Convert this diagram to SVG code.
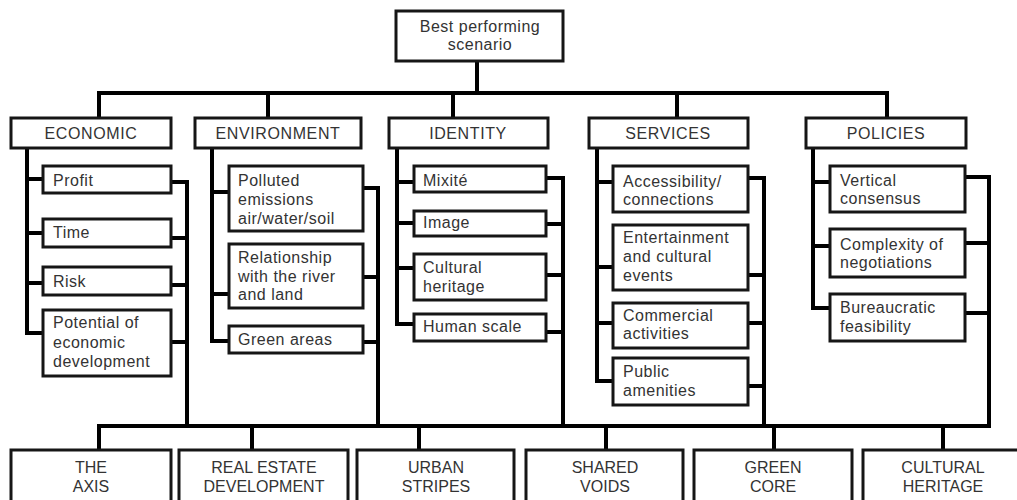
<svg xmlns="http://www.w3.org/2000/svg" width="1017" height="500" viewBox="0 0 1017 500">
<style>
.b{fill:#fff;stroke:#161616;stroke-width:3}
.c{fill:none;stroke:#000;stroke-width:4;stroke-linecap:square;stroke-linejoin:miter}
text{font-family:"Liberation Sans",Arial,sans-serif;fill:#333}
.s{font-size:16px;letter-spacing:0.5px}
.k{font-size:16px;letter-spacing:0.6px;text-anchor:middle}
.t{font-size:16px;letter-spacing:0.5px;text-anchor:middle}
.m{font-size:16px;text-anchor:middle}
</style>
<rect width="1017" height="500" fill="#fff"/>
<g id="connectors">
<path class="c" d="M477 61V93M99 93H887M99 93V118M268 93V118M453 93V118M677 93V118M887 93V118"/>
<path class="c" d="M27 149V333H42M27 179H42M27 233H42M27 283H42M171 182H187V426M171 238H187M171 285H187M171 342H187"/>
<path class="c" d="M212 149V341H228M212 192H228M212 294H228M363 188H378V426M363 277H378M363 342H378"/>
<path class="c" d="M397 149V324H413M397 182H413M397 223H413M397 268H413M546 178H563V426M546 224H563M546 275H563M546 332H563"/>
<path class="c" d="M597 149V381H612M597 182H612M597 267H612M597 323H612M748 178H764V426M748 275H764M748 323H764M748 386H764"/>
<path class="c" d="M813 149V308H829M813 182H829M813 246H829M965 177H989V426M965 243H989M965 313H989"/>
<path class="c" d="M99 426H989M99 426V450M252 426V450M419 426V450M606 426V450M774 426V450M943 426V450"/>
</g>
<g id="top"><rect class="b" x="396" y="11" width="167" height="50"/><text class="t" x="480" y="32">Best performing</text><text class="t" x="480" y="50">scenario</text></g>
<g id="economic"><rect class="b" x="11" y="118" width="160" height="30"/><text class="k" x="91" y="139">ECONOMIC</text></g>
<g id="environment"><rect class="b" x="195" y="118" width="166" height="30"/><text class="k" x="278" y="139">ENVIRONMENT</text></g>
<g id="identity"><rect class="b" x="389" y="118" width="159" height="30"/><text class="k" x="468" y="139">IDENTITY</text></g>
<g id="services"><rect class="b" x="589" y="118" width="159" height="30"/><text class="k" x="668" y="139">SERVICES</text></g>
<g id="policies"><rect class="b" x="806" y="118" width="160" height="30"/><text class="k" x="886" y="139">POLICIES</text></g>
<g id="profit"><rect class="b" x="43" y="166" width="128" height="27"/><text class="s" x="53" y="186">Profit</text></g>
<g id="time"><rect class="b" x="43" y="219" width="128" height="28"/><text class="s" x="53" y="238">Time</text></g>
<g id="risk"><rect class="b" x="43" y="267" width="128" height="28"/><text class="s" x="53" y="287">Risk</text></g>
<g id="potential"><rect class="b" x="43" y="310" width="128" height="66"/><text class="s" x="53" y="328">Potential of</text><text class="s" x="53" y="348">economic</text><text class="s" x="53" y="367">development</text></g>
<g id="polluted"><rect class="b" x="229" y="166" width="134" height="65"/><text class="s" x="238" y="186">Polluted</text><text class="s" x="238" y="205">emissions</text><text class="s" x="238" y="224">air/water/soil</text></g>
<g id="relationship"><rect class="b" x="229" y="244" width="134" height="64"/><text class="s" x="238" y="263">Relationship</text><text class="s" x="238" y="282">with the river</text><text class="s" x="238" y="300">and land</text></g>
<g id="green-areas"><rect class="b" x="229" y="326" width="134" height="27"/><text class="s" x="238" y="345">Green areas</text></g>
<g id="mixite"><rect class="b" x="414" y="166" width="132" height="26"/><text class="s" x="423" y="186">Mixité</text></g>
<g id="image"><rect class="b" x="414" y="211" width="132" height="25"/><text class="s" x="423" y="228">Image</text></g>
<g id="cultural-heritage"><rect class="b" x="414" y="254" width="132" height="46"/><text class="s" x="423" y="273">Cultural</text><text class="s" x="423" y="292">heritage</text></g>
<g id="human-scale"><rect class="b" x="414" y="314" width="132" height="27"/><text class="s" x="423" y="332">Human scale</text></g>
<g id="accessibility"><rect class="b" x="613" y="166" width="135" height="46"/><text class="s" x="623" y="187">Accessibility/</text><text class="s" x="623" y="205">connections</text></g>
<g id="entertainment"><rect class="b" x="613" y="225" width="135" height="65"/><text class="s" x="623" y="243">Entertainment</text><text class="s" x="623" y="262">and cultural</text><text class="s" x="623" y="281">events</text></g>
<g id="commercial"><rect class="b" x="613" y="303" width="135" height="45"/><text class="s" x="623" y="321">Commercial</text><text class="s" x="623" y="339">activities</text></g>
<g id="public"><rect class="b" x="613" y="358" width="135" height="47"/><text class="s" x="623" y="377">Public</text><text class="s" x="623" y="396">amenities</text></g>
<g id="vertical"><rect class="b" x="830" y="166" width="135" height="46"/><text class="s" x="840" y="186">Vertical</text><text class="s" x="840" y="204">consensus</text></g>
<g id="complexity"><rect class="b" x="830" y="229" width="135" height="48"/><text class="s" x="840" y="250">Complexity of</text><text class="s" x="840" y="268">negotiations</text></g>
<g id="bureaucratic"><rect class="b" x="830" y="294" width="135" height="47"/><text class="s" x="840" y="313">Bureaucratic</text><text class="s" x="840" y="332">feasibility</text></g>
<g id="the-axis"><rect class="b" x="11" y="450" width="160" height="60"/><text class="m" x="91" y="473">THE</text><text class="m" x="91" y="492">AXIS</text></g>
<g id="real-estate"><rect class="b" x="179" y="450" width="169" height="60"/><text class="m" x="264" y="473">REAL ESTATE</text><text class="m" x="264" y="492">DEVELOPMENT</text></g>
<g id="urban-stripes"><rect class="b" x="357" y="450" width="157" height="60"/><text class="m" x="436" y="473">URBAN</text><text class="m" x="436" y="492">STRIPES</text></g>
<g id="shared-voids"><rect class="b" x="526" y="450" width="157" height="60"/><text class="m" x="605" y="473">SHARED</text><text class="m" x="605" y="492">VOIDS</text></g>
<g id="green-core"><rect class="b" x="694" y="450" width="158" height="60"/><text class="m" x="773" y="473">GREEN</text><text class="m" x="773" y="492">CORE</text></g>
<g id="cultural-heritage-scenario"><rect class="b" x="863" y="450" width="170" height="60"/><text class="m" x="943" y="473">CULTURAL</text><text class="m" x="943" y="492">HERITAGE</text></g>
</svg>
